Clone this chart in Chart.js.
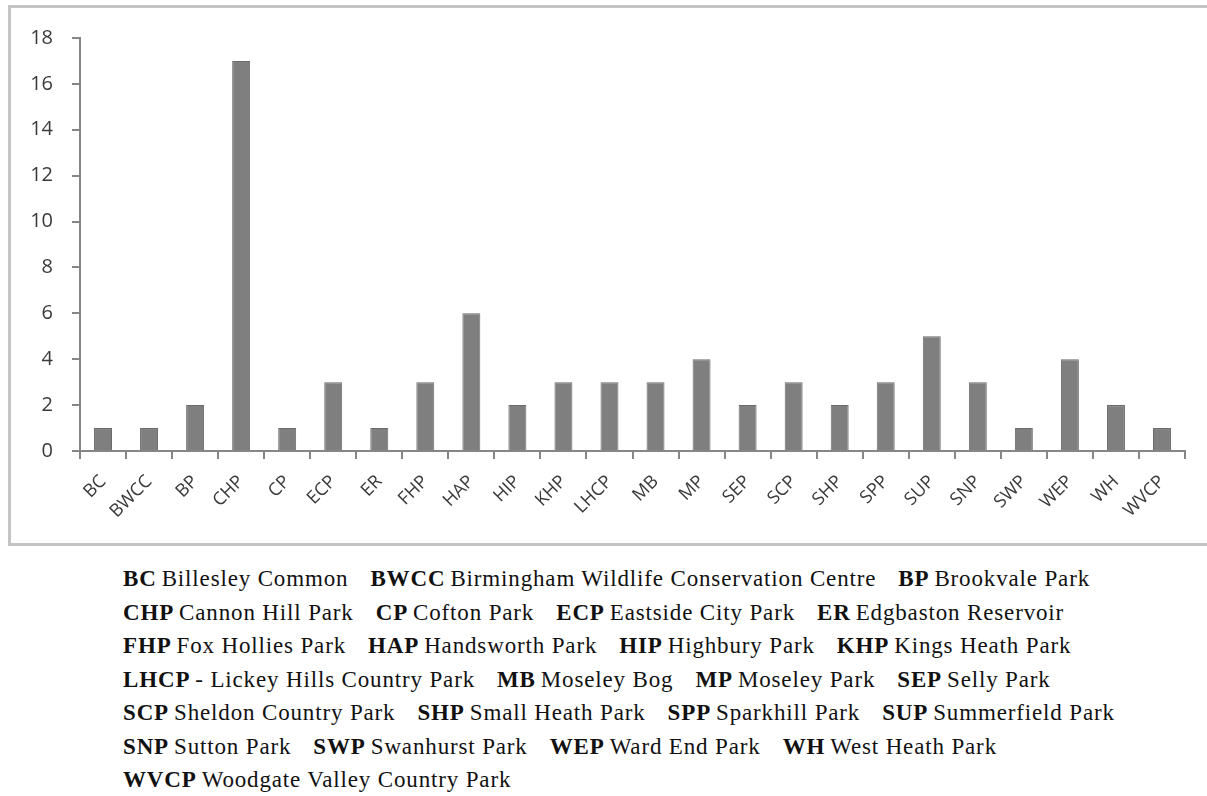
<!DOCTYPE html>
<html>
<head>
<meta charset="utf-8">
<script src="https://cdn.jsdelivr.net/npm/chart.js@4"></script>
<style>
    body { margin: 0; background: #fff; width: 1207px; height: 796px; overflow: hidden; position: relative; }
    #frame { position: absolute; left: 8px; top: 5px; width: 1215px; height: 535px; border: 3px solid #c4c4c4; }
    #chart { position: absolute; left: 0; top: 0; }
    #key { position: absolute; left: 123px; top: 562px; font-family: "Liberation Serif", "Times New Roman", serif; font-size: 23px; letter-spacing: 0.85px; line-height: 33.5px; color: #111; white-space: nowrap; }
    #key b { margin-right: 5px; }
    #key .item { margin-right: 22px; }
</style>
</head>
<body>
<div id="frame"></div>
<canvas id="chart" width="1207" height="545"></canvas>
<div id="key"></div>

<script>
const categories = ["BC", "BWCC", "BP", "CHP", "CP", "ECP", "ER", "FHP", "HAP", "HIP", "KHP", "LHCP",
    "MB", "MP", "SEP", "SCP", "SHP", "SPP", "SUP", "SNP", "SWP", "WEP", "WH", "WVCP"];
const counts = [1, 1, 2, 17, 1, 3, 1, 3, 6, 2, 3, 3, 3, 4, 2, 3, 2, 3, 5, 3, 1, 4, 2, 1];
const yMin = 0;
const yMax = 18;
const yStep = 2;

const parkNames = ["Billesley Common", "Birmingham Wildlife Conservation Centre", "Brookvale Park",
    "Cannon Hill Park", "Cofton Park", "Eastside City Park", "Edgbaston Reservoir",
    "Fox Hollies Park", "Handsworth Park", "Highbury Park", "Kings Heath Park",
    "- Lickey Hills Country Park", "Moseley Bog", "Moseley Park", "Selly Park",
    "Sheldon Country Park", "Small Heath Park", "Sparkhill Park", "Summerfield Park",
    "Sutton Park", "Swanhurst Park", "Ward End Park", "West Heath Park",
    "Woodgate Valley Country Park"];
const keyRowSizes = [3, 4, 4, 4, 4, 4, 1];

// key under the chart
const key = document.getElementById("key");
let idx = 0;
keyRowSizes.forEach(n => {
    const row = document.createElement("div");
    for (let i = 0; i < n; i++, idx++) {
        const span = document.createElement("span");
        span.className = "item";
        span.innerHTML = "<b>" + categories[idx] + "</b>" + parkNames[idx];
        row.appendChild(span);
    }
    key.appendChild(row);
});

const axisGray = "#868686";
const fontFamily = "'Open Sans', 'Noto Sans', sans-serif";

new Chart(document.getElementById("chart").getContext("2d"), {
    type: "bar",
    data: {
        labels: categories,
        datasets: [{
            data: counts,
            backgroundColor: "#7f7f7f",
            borderColor: "#6b6b6b",
            borderWidth: 1,
            categoryPercentage: 1,
            barPercentage: 0.39
        }]
    },
    options: {
        responsive: false,
        animation: false,
        layout: { padding: { top: 38, right: 22, left: 0, bottom: 0 } },
        plugins: { legend: { display: false }, tooltip: { enabled: false } },
        scales: {
            x: {
                afterFit: s => { s.height = 94; },
                border: { color: axisGray, width: 2 },
                grid: { offset: true, drawOnChartArea: false, color: axisGray, lineWidth: 2, tickLength: 8 },
                ticks: { minRotation: 45, maxRotation: 45, autoSkip: false, padding: 12, color: "#3a3a3a", font: { family: fontFamily, size: 18 } }
            },
            y: {
                min: yMin,
                max: yMax,
                afterFit: s => { s.width = 80; },
                border: { color: axisGray, width: 2 },
                grid: { drawOnChartArea: false, color: axisGray, lineWidth: 2, tickLength: 8 },
                ticks: { stepSize: yStep, padding: 19, color: "#3a3a3a", font: { family: fontFamily, size: 20 } }
            }
        }
    }
});
</script>
</body>
</html>
